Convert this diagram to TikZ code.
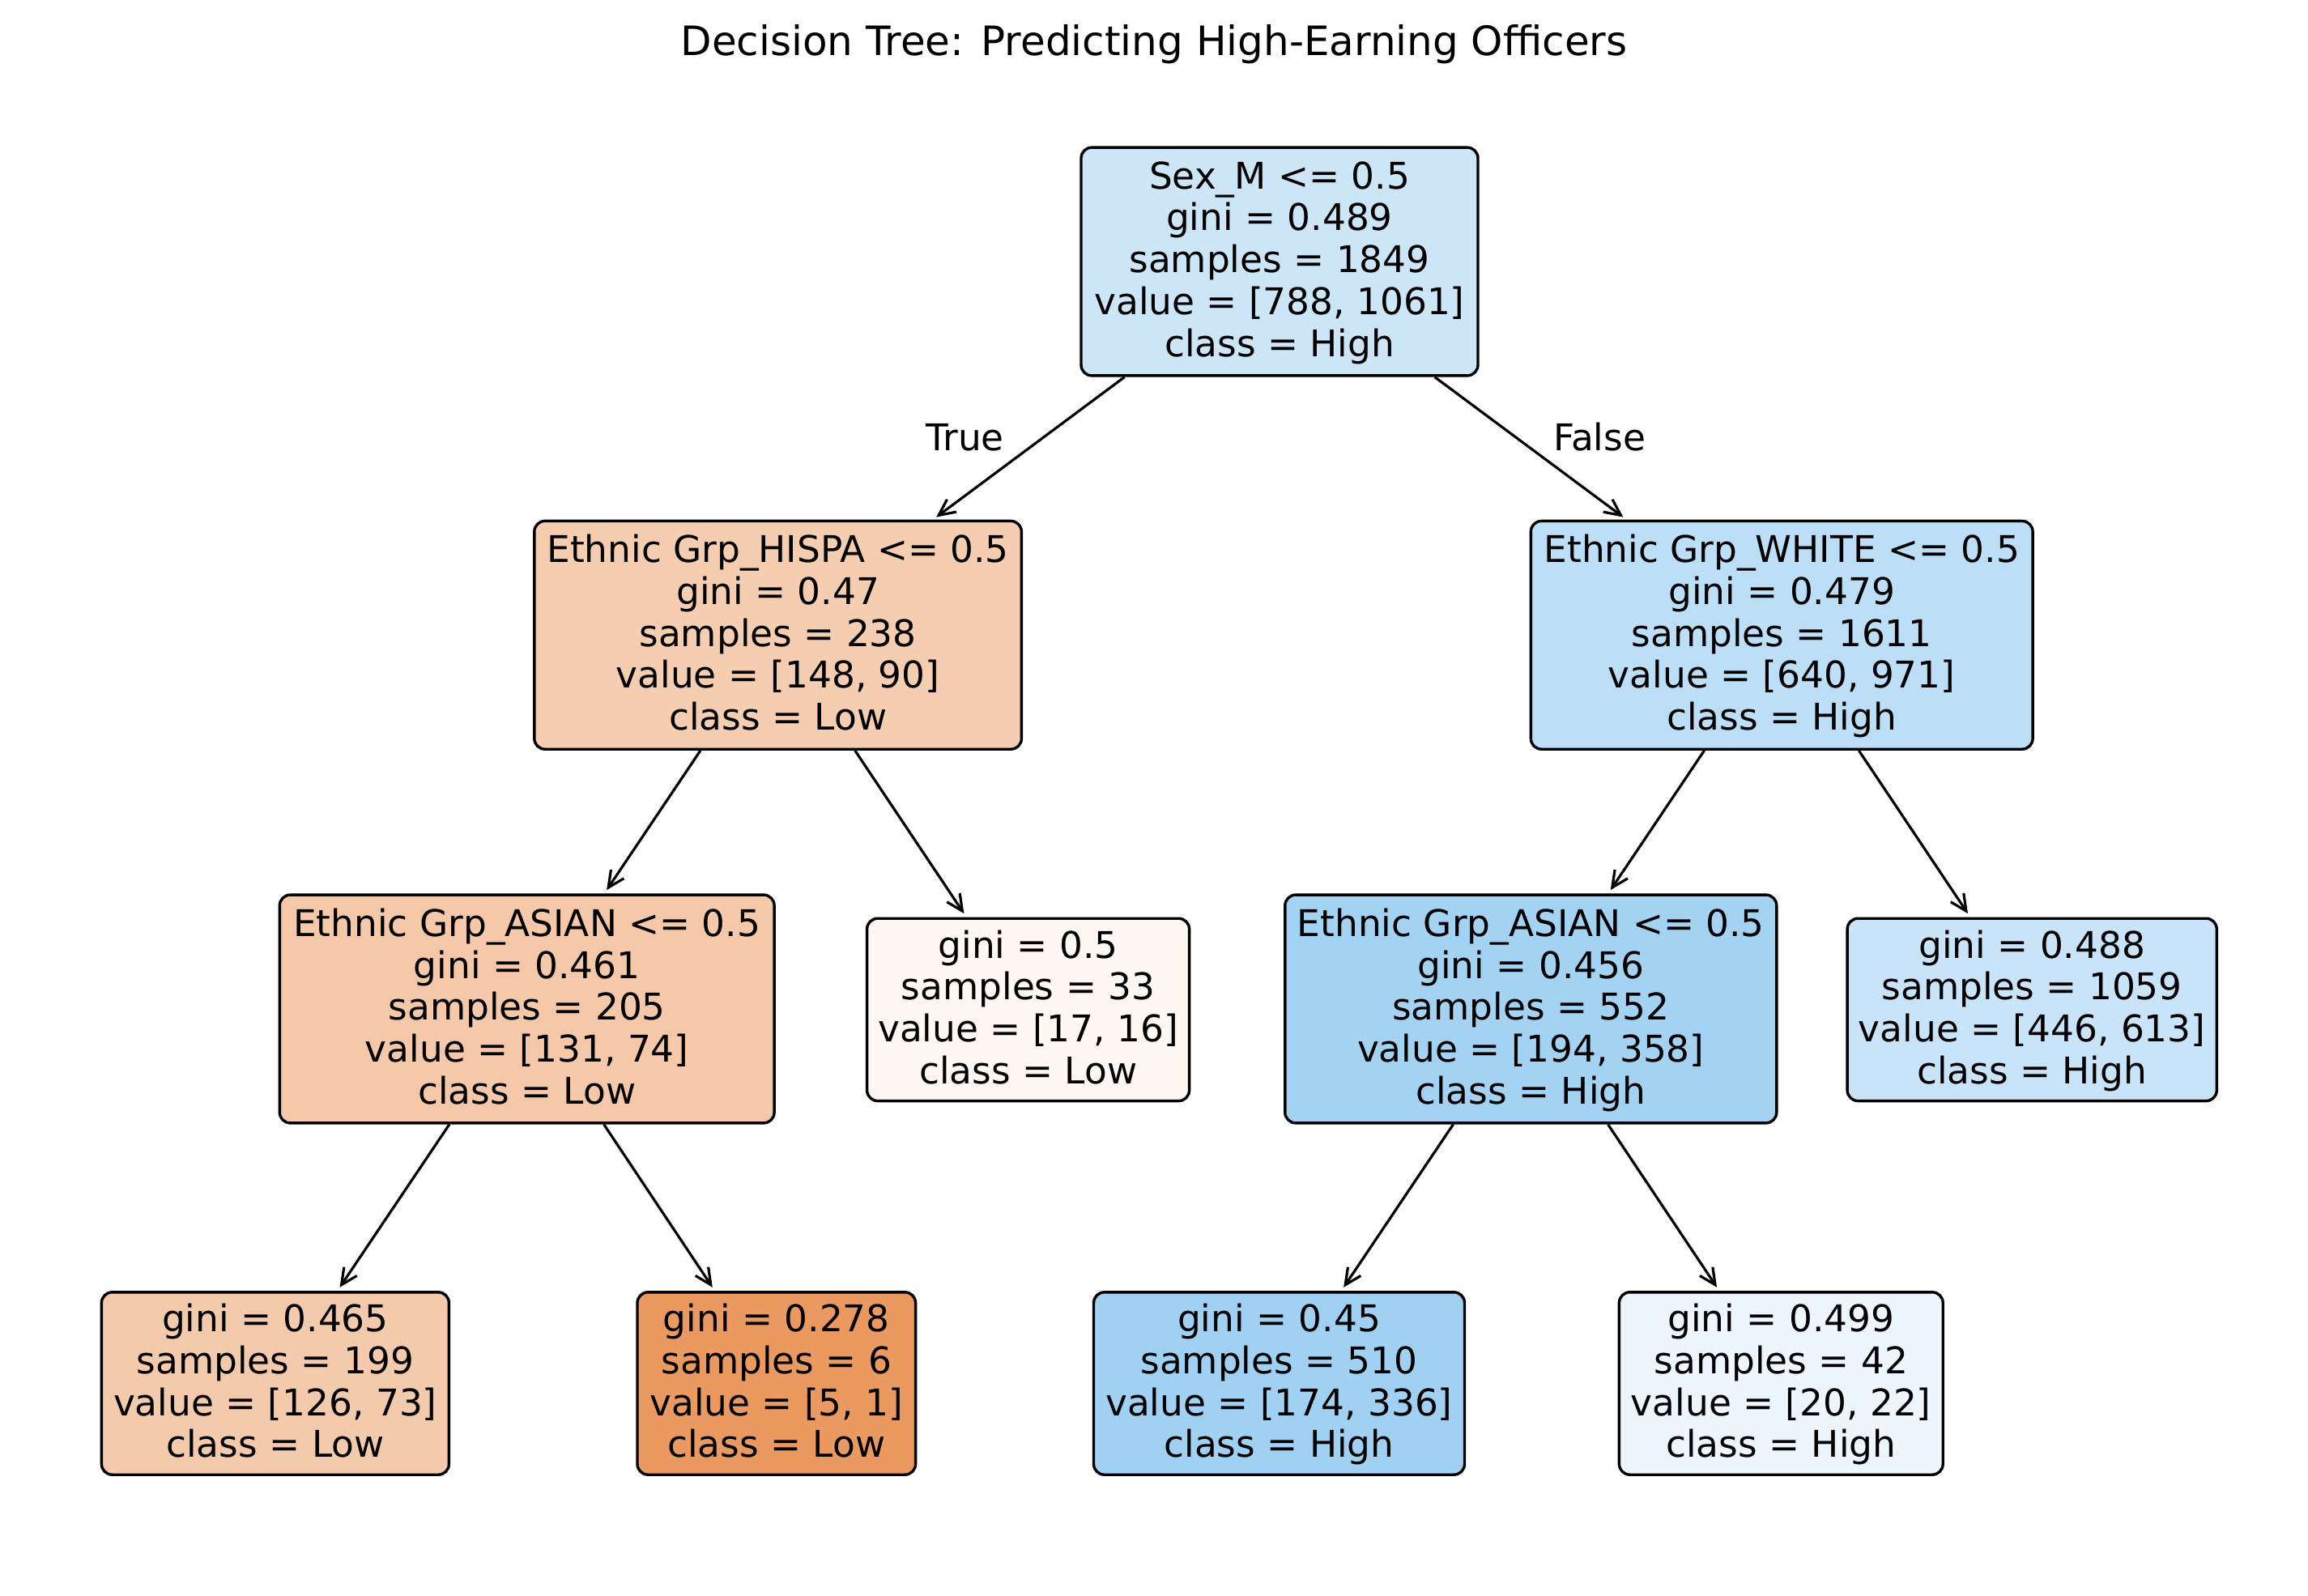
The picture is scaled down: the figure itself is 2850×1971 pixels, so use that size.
\documentclass[tikz,border=0pt]{standalone}
\usepackage{fontspec}
\setmainfont{DejaVu Sans}
\usetikzlibrary{arrows.meta}
\definecolor{cRoot}{RGB}{204,230,248}
\definecolor{cHispa}{RGB}{245,206,177}
\definecolor{cWhite}{RGB}{188,222,246}
\definecolor{cAsianL}{RGB}{244,200,169}
\definecolor{cLeafA}{RGB}{253,248,243}
\definecolor{cAsianR}{RGB}{164,210,243}
\definecolor{cLeafB}{RGB}{201,228,248}
\definecolor{cLeafC}{RGB}{244,202,172}
\definecolor{cLeafD}{RGB}{234,154,97}
\definecolor{cLeafE}{RGB}{160,208,242}
\definecolor{cLeafF}{RGB}{237,246,253}
\newcommand{\tstrut}{\rule[-0.235\baselineskip]{0pt}{\baselineskip}}
\begin{document}
\begin{tikzpicture}[x=0.25pt,y=-0.25pt,
  tnode/.style={draw=black, line width=0.85pt, rounded corners=3.3pt, inner sep=0pt,
    align=center, font=\fontsize{11.35pt}{12.93pt}\selectfont},
  inner5/.style={tnode, minimum height=70.45pt},
  leaf4/.style={tnode, minimum height=56.35pt},
  edge/.style={-{Straight Barb[length=5pt,width=4.8pt]}, line width=0.8pt, shorten >=1.3pt},
  lbl/.style={anchor=base, inner sep=0pt, font=\fontsize{11.35pt}{12.93pt}\selectfont},
  ttl/.style={anchor=base, inner sep=0pt, font=\fontsize{12.5pt}{14pt}\selectfont}]
\useasboundingbox (0,0) rectangle (2850,1971);
\fill[white] (0,0) rectangle (2850,1971);

\node[ttl] (title) at (1425,68.3) {Decision Tree: Predicting High-Earning Officers};

\node[inner5, fill=cRoot, minimum width=122.5pt] (root) at (1580,323)
  {\tstrut Sex\_M <= 0.5\\\tstrut gini = 0.489\\\tstrut samples = 1849\\\tstrut value = [788, 1061]\\\tstrut class = High};

\node[inner5, fill=cHispa, minimum width=150.4pt] (hispa) at (960.6,784.3)
  {\tstrut Ethnic Grp\_HISPA <= 0.5\\\tstrut gini = 0.47\\\tstrut samples = 238\\\tstrut value = [148, 90]\\\tstrut class = Low};

\node[inner5, fill=cWhite, minimum width=154.95pt] (white) at (2200.2,784.3)
  {\tstrut Ethnic Grp\_WHITE <= 0.5\\\tstrut gini = 0.479\\\tstrut samples = 1611\\\tstrut value = [640, 971]\\\tstrut class = High};

\node[inner5, fill=cAsianL, minimum width=152.7pt] (asianl) at (650.7,1246)
  {\tstrut Ethnic Grp\_ASIAN <= 0.5\\\tstrut gini = 0.461\\\tstrut samples = 205\\\tstrut value = [131, 74]\\\tstrut class = Low};

\node[leaf4, fill=cLeafA, minimum width=99.5pt] (leafa) at (1269.6,1246.9)
  {\tstrut gini = 0.5\\\tstrut samples = 33\\\tstrut value = [17, 16]\\\tstrut class = Low};

\node[inner5, fill=cAsianR, minimum width=151.75pt] (asianr) at (1890.3,1246)
  {\tstrut Ethnic Grp\_ASIAN <= 0.5\\\tstrut gini = 0.456\\\tstrut samples = 552\\\tstrut value = [194, 358]\\\tstrut class = High};

\node[leaf4, fill=cLeafB, minimum width=114.05pt] (leafb) at (2509.2,1246.9)
  {\tstrut gini = 0.488\\\tstrut samples = 1059\\\tstrut value = [446, 613]\\\tstrut class = High};

\node[leaf4, fill=cLeafC, minimum width=107.25pt] (leafc) at (339.9,1708.5)
  {\tstrut gini = 0.465\\\tstrut samples = 199\\\tstrut value = [126, 73]\\\tstrut class = Low};

\node[leaf4, fill=cLeafD, minimum width=85.9pt] (leafd) at (958.8,1708.5)
  {\tstrut gini = 0.278\\\tstrut samples = 6\\\tstrut value = [5, 1]\\\tstrut class = Low};

\node[leaf4, fill=cLeafE, minimum width=114.5pt] (leafe) at (1579.5,1708.5)
  {\tstrut gini = 0.45\\\tstrut samples = 510\\\tstrut value = [174, 336]\\\tstrut class = High};

\node[leaf4, fill=cLeafF, minimum width=99.95pt] (leaff) at (2199.3,1708.5)
  {\tstrut gini = 0.499\\\tstrut samples = 42\\\tstrut value = [20, 22]\\\tstrut class = High};

\draw[edge] (root) -- (hispa);
\draw[edge] (root) -- (white);
\draw[edge] (hispa) -- (asianl);
\draw[edge] (hispa) -- (leafa);
\draw[edge] (white) -- (asianr);
\draw[edge] (white) -- (leafb);
\draw[edge] (asianl) -- (leafc);
\draw[edge] (asianl) -- (leafd);
\draw[edge] (asianr) -- (leafe);
\draw[edge] (asianr) -- (leaff);

\node[lbl] (truelbl) at (1191.5,556.7) {True};
\node[lbl] (falselbl) at (1975,556.7) {False};
\end{tikzpicture}
\end{document}
